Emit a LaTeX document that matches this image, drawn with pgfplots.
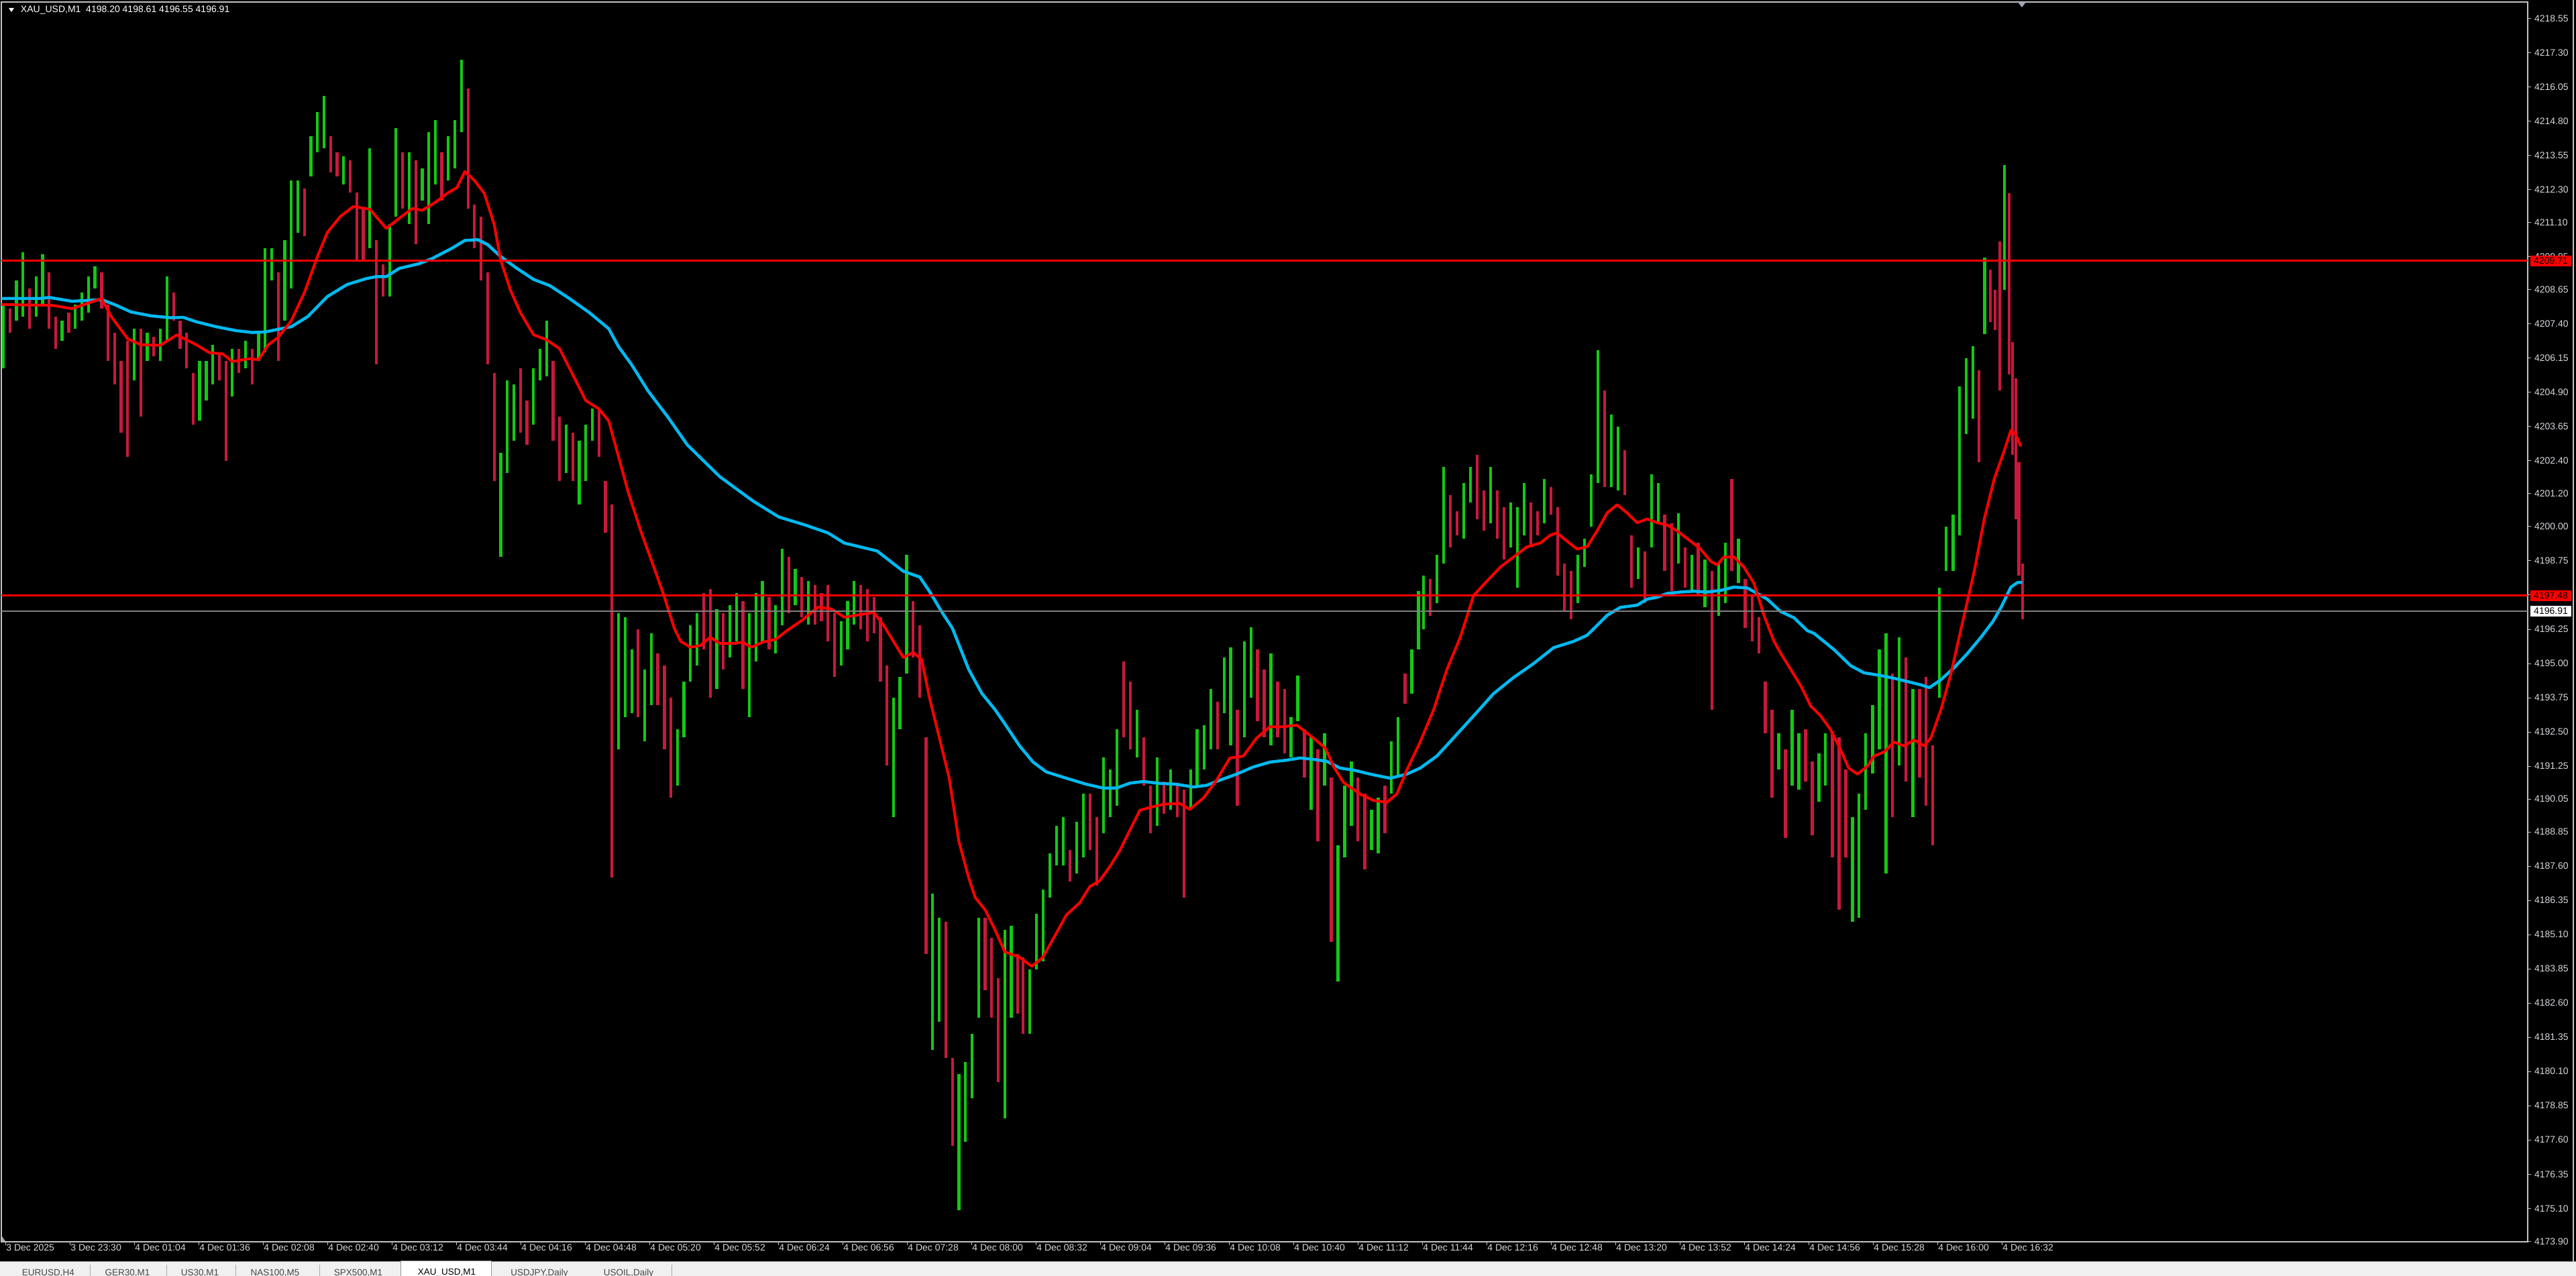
\documentclass[border=0pt]{standalone}
\usepackage{pgfplots}
\pgfplotsset{compat=1.18}
\usepackage{pgfplotstable}
\usepackage{fontspec}
\setmainfont{Liberation Sans}

\definecolor{upc}{RGB}{20,200,20}
\definecolor{dnc}{RGB}{200,25,60}
\definecolor{maslow}{RGB}{0,185,240}
\definecolor{framec}{RGB}{195,195,195}
\definecolor{labc}{RGB}{215,215,222}
\definecolor{tabbg}{RGB}{240,240,240}

% candles, grouped: x position, low, high
\pgfplotstableread{
x lo hi
2.0 4205.77 4208.11
10.0 4207.53 4208.99
13.9 4207.67 4210.01
21.9 4207.67 4209.14
25.9 4208.11 4209.94
37.8 4206.79 4207.53
45.8 4207.23 4208.11
49.8 4207.53 4208.55
53.8 4207.82 4209.14
57.8 4208.70 4209.50
81.7 4205.33 4207.23
89.6 4206.06 4207.09
97.6 4206.06 4207.23
101.6 4206.79 4209.14
121.5 4203.87 4206.06
125.5 4204.60 4206.06
129.5 4205.19 4206.65
141.4 4204.75 4206.50
149.4 4205.77 4206.79
157.4 4206.06 4207.09
161.4 4206.36 4210.16
165.3 4208.99 4210.16
173.3 4207.53 4210.45
177.3 4208.70 4212.65
181.3 4210.74 4212.65
189.2 4212.79 4214.26
193.2 4213.67 4215.13
197.2 4213.82 4215.72
209.2 4212.50 4213.52
225.1 4210.16 4213.82
237.1 4208.40 4211.04
241.0 4211.33 4214.55
249.0 4211.04 4213.67
257.0 4211.91 4213.09
261.0 4211.04 4214.40
264.9 4212.50 4214.84
272.9 4212.65 4214.26
276.9 4213.09 4214.84
280.9 4214.40 4217.04
304.8 4198.89 4202.70
308.8 4201.97 4205.33
312.7 4203.14 4205.19
324.7 4203.72 4205.77
328.7 4205.33 4206.50
332.7 4205.48 4207.53
344.6 4201.97 4203.72
352.6 4200.80 4203.14
356.6 4201.67 4203.72
360.6 4203.14 4204.31
376.5 4191.86 4196.85
380.5 4193.03 4196.70
384.5 4193.18 4195.52
392.4 4192.15 4194.79
396.4 4193.47 4196.10
412.4 4190.55 4192.59
416.3 4192.30 4194.35
420.3 4194.35 4196.40
424.3 4194.93 4196.85
436.3 4194.06 4196.99
444.2 4195.23 4197.14
448.2 4195.81 4197.58
456.2 4193.03 4196.85
460.2 4195.08 4197.58
464.1 4195.81 4198.02
472.1 4195.37 4197.14
476.1 4196.40 4199.19
484.1 4197.14 4198.46
492.0 4196.41 4198.02
512.0 4194.93 4196.55
515.9 4195.52 4197.28
519.9 4196.41 4198.02
543.8 4189.38 4193.76
547.8 4192.59 4194.50
551.8 4194.64 4198.96
567.7 4180.89 4186.60
571.7 4181.91 4185.72
583.7 4175.04 4180.01
587.6 4177.52 4180.45
591.6 4179.13 4181.48
595.6 4182.06 4185.72
611.6 4178.40 4185.28
615.5 4182.06 4185.42
626.8 4181.48 4183.82
630.8 4183.82 4185.86
634.9 4184.11 4186.74
639.0 4186.45 4188.06
643.1 4187.62 4189.08
647.2 4187.62 4189.38
655.3 4187.33 4189.23
659.4 4187.91 4190.25
671.6 4188.79 4191.57
675.7 4189.38 4191.13
679.8 4189.81 4192.59
692.0 4191.57 4193.32
704.3 4189.08 4191.57
712.4 4189.67 4191.13
724.7 4189.67 4191.13
728.7 4190.55 4192.59
732.8 4191.13 4192.74
736.9 4191.86 4194.06
745.1 4193.18 4195.23
749.1 4192.01 4195.59
757.3 4192.30 4195.81
761.4 4193.76 4196.32
773.6 4192.01 4195.37
785.8 4191.57 4193.03
789.9 4192.89 4194.57
798.1 4189.67 4192.30
806.2 4190.55 4192.45
814.4 4183.38 4188.35
818.5 4187.91 4190.55
822.6 4189.08 4191.42
834.8 4188.20 4189.67
838.9 4188.06 4190.11
847.0 4190.25 4192.15
851.1 4190.84 4193.03
859.3 4193.91 4195.52
863.4 4195.52 4197.64
866.5 4196.25 4198.22
874.6 4197.20 4198.96
878.7 4198.66 4202.19
891.0 4199.55 4201.60
895.0 4200.87 4202.19
907.3 4200.13 4202.19
919.5 4199.25 4200.87
923.6 4197.78 4200.72
927.7 4199.69 4201.60
939.9 4200.13 4201.75
960.3 4197.20 4198.96
964.4 4198.52 4199.55
968.5 4199.99 4201.90
972.5 4201.60 4206.45
980.7 4201.45 4204.10
984.8 4201.31 4203.66
997.0 4198.08 4199.25
1005.2 4199.25 4201.90
1009.3 4200.13 4201.60
1021.5 4198.66 4200.50
1029.7 4197.64 4198.96
1037.8 4197.05 4198.81
1046.0 4196.75 4198.66
1050.1 4197.20 4199.40
1058.2 4197.93 4199.55
1082.7 4191.13 4192.45
1090.8 4190.55 4193.32
1094.9 4190.40 4192.45
1107.2 4189.96 4191.72
1111.2 4190.55 4192.45
1127.6 4185.57 4189.38
1131.6 4185.72 4190.25
1135.7 4189.67 4192.45
1139.8 4190.98 4193.47
1143.9 4191.86 4195.52
1148.0 4187.33 4196.10
1156.1 4191.28 4195.96
1164.3 4189.38 4194.06
1180.6 4193.76 4197.78
1184.7 4198.37 4199.99
1188.8 4198.37 4200.43
1192.8 4199.69 4205.13
1196.9 4203.37 4206.16
1200.9 4203.95 4206.60
1208.0 4207.04 4209.83
1220.0 4208.65 4213.21
}\upbars

\pgfplotstableread{
x lo hi
6.0 4207.09 4207.96
17.9 4207.23 4208.70
29.9 4207.23 4209.28
33.9 4206.50 4207.67
41.8 4207.09 4207.82
61.8 4207.96 4209.28
65.7 4206.06 4208.11
69.7 4205.19 4207.09
73.7 4203.43 4206.06
77.7 4202.55 4206.79
85.7 4204.02 4207.23
93.6 4206.21 4206.94
105.6 4207.53 4208.55
109.6 4206.50 4207.53
113.5 4205.77 4207.09
117.5 4203.72 4205.62
133.5 4205.33 4206.36
137.5 4202.41 4206.06
145.4 4205.62 4206.50
153.4 4205.19 4206.50
169.3 4206.06 4209.28
185.3 4210.60 4212.35
201.2 4212.94 4214.26
205.2 4212.79 4213.67
213.1 4212.21 4213.38
217.1 4209.72 4212.21
221.1 4209.72 4211.62
229.1 4205.92 4210.45
233.1 4208.40 4209.57
245.0 4211.62 4213.67
253.0 4210.31 4213.38
268.9 4211.91 4213.67
284.9 4211.62 4216.01
288.8 4210.16 4211.77
292.8 4208.99 4211.33
296.8 4205.92 4209.28
300.8 4201.67 4205.62
316.7 4203.43 4205.77
320.7 4202.99 4204.60
336.7 4203.14 4206.06
340.6 4201.67 4204.02
348.6 4201.67 4203.43
364.5 4202.55 4204.31
368.5 4199.77 4201.67
372.5 4187.18 4200.80
388.4 4193.03 4196.25
400.4 4193.47 4195.37
404.4 4191.86 4194.93
408.4 4190.11 4193.76
428.3 4195.52 4197.58
432.3 4193.76 4197.72
440.2 4194.79 4196.85
452.2 4194.06 4197.28
468.1 4195.52 4197.43
480.1 4196.85 4198.89
488.0 4196.70 4198.16
496.0 4196.41 4197.87
500.0 4196.55 4197.58
504.0 4195.81 4197.87
508.0 4194.50 4196.85
523.9 4196.25 4197.87
527.9 4195.81 4197.72
531.9 4196.10 4197.43
535.9 4194.35 4196.69
539.8 4191.28 4194.93
555.8 4195.23 4197.28
559.8 4193.76 4196.40
563.7 4184.40 4192.30
575.7 4180.60 4185.57
579.7 4177.38 4180.60
599.6 4183.08 4185.72
603.6 4182.06 4184.99
607.6 4179.72 4183.52
619.5 4182.21 4184.40
622.7 4181.48 4184.26
651.2 4187.03 4188.20
663.5 4188.20 4190.25
667.6 4186.89 4189.38
683.9 4192.30 4195.08
687.9 4191.86 4194.35
696.1 4190.55 4192.30
700.2 4188.79 4190.55
708.3 4189.52 4190.69
716.5 4189.38 4190.55
720.6 4186.45 4190.40
741.0 4191.86 4193.61
753.2 4189.81 4193.32
765.4 4192.89 4195.52
769.5 4192.30 4194.79
777.7 4192.30 4194.35
781.8 4191.72 4194.06
794.0 4190.84 4192.59
802.2 4188.50 4191.86
810.3 4184.84 4190.84
826.6 4188.50 4190.84
830.7 4187.47 4190.25
843.0 4188.79 4190.55
855.2 4193.54 4194.64
870.6 4196.75 4198.08
882.8 4199.25 4201.16
886.9 4199.69 4200.57
899.1 4200.28 4202.63
903.2 4199.84 4201.31
911.4 4199.55 4201.31
915.4 4198.81 4200.72
931.8 4199.25 4200.87
935.8 4199.69 4200.57
944.0 4200.43 4201.45
948.1 4198.22 4200.72
952.1 4196.90 4198.66
956.2 4196.61 4198.37
976.6 4201.45 4204.98
988.9 4201.16 4202.78
992.9 4197.78 4199.69
1001.1 4197.20 4199.10
1013.3 4198.37 4200.43
1017.4 4197.64 4200.13
1025.6 4197.78 4199.25
1033.7 4197.49 4199.40
1041.9 4193.32 4198.37
1054.1 4198.37 4201.75
1062.3 4196.31 4198.08
1066.4 4195.81 4197.49
1070.5 4195.37 4196.69
1074.5 4192.45 4194.35
1078.6 4190.11 4193.32
1086.8 4188.64 4191.86
1099.0 4190.69 4192.59
1103.1 4188.72 4191.42
1115.3 4187.91 4192.52
1119.4 4186.01 4192.30
1123.5 4187.91 4191.13
1152.0 4189.38 4194.64
1160.2 4190.69 4195.23
1168.4 4190.84 4194.06
1172.4 4189.81 4194.50
1176.5 4188.35 4192.01
1204.5 4202.34 4205.72
1211.5 4207.48 4209.39
1214.5 4207.19 4208.65
1217.3 4204.98 4210.42
1222.8 4205.57 4212.18
1224.9 4202.63 4206.74
1226.9 4200.28 4205.42
1228.9 4198.22 4202.34
1231.0 4196.61 4198.66
}\dnbars

\begin{document}
\begin{tikzpicture}
\fill[black] (0,0) rectangle (768bp,380.4bp);

\begin{axis}[
    at={(0.4bp,10.2bp)}, anchor=south west,
    scale only axis, width=753.2bp, height=369.6bp,
    xmin=0.8, xmax=1538.6, ymin=4173.88, ymax=4219.16,
    axis background/.style={fill=black},
    axis line style={draw=framec, line width=0.3bp},
    xtick pos=lower, ytick pos=right, yticklabel pos=right,
    tick align=outside, major tick length=1bp,
    tick style={draw=framec, line width=0.2bp},
    ticklabel style={font=\fontsize{2.8bp}{3.2bp}\selectfont, text=labc, inner sep=0pt},
    xticklabel style={anchor=west, yshift=-0.8bp},
    yticklabel style={anchor=west, xshift=0.8bp},
    xtick={3.39,42.59,81.79,120.99,160.19,199.39,238.59,277.79,316.99,356.19,395.39,434.59,473.79,512.99,552.19,591.39,630.59,669.79,708.99,748.19,787.39,826.59,865.79,904.99,944.19,983.39,1022.59,1061.79,1100.99,1140.19,1179.39,1218.59},
    xticklabels={3 Dec 2025,3 Dec 23:30,4 Dec 01:04,4 Dec 01:36,4 Dec 02:08,4 Dec 02:40,4 Dec 03:12,4 Dec 03:44,4 Dec 04:16,4 Dec 04:48,4 Dec 05:20,4 Dec 05:52,4 Dec 06:24,4 Dec 06:56,4 Dec 07:28,4 Dec 08:00,4 Dec 08:32,4 Dec 09:04,4 Dec 09:36,4 Dec 10:08,4 Dec 10:40,4 Dec 11:12,4 Dec 11:44,4 Dec 12:16,4 Dec 12:48,4 Dec 13:20,4 Dec 13:52,4 Dec 14:24,4 Dec 14:56,4 Dec 15:28,4 Dec 16:00,4 Dec 16:32},
    ytick={4173.90,4175.10,4176.35,4177.60,4178.85,4180.10,4181.35,4182.60,4183.85,4185.10,4186.35,4187.60,4188.85,4190.05,4191.25,4192.50,4193.75,4195.00,4196.25,4197.50,4198.75,4200.00,4201.20,4202.40,4203.65,4204.90,4206.15,4207.40,4208.65,4209.85,4211.10,4212.30,4213.55,4214.80,4216.05,4217.30,4218.55},
    yticklabels={4173.90,4175.10,4176.35,4177.60,4178.85,4180.10,4181.35,4182.60,4183.85,4185.10,4186.35,4187.60,4188.85,4190.05,4191.25,4192.50,4193.75,4195.00,4196.25,4197.50,4198.75,4200.00,4201.20,4202.40,4203.65,4204.90,4206.15,4207.40,4208.65,4209.85,4211.10,4212.30,4213.55,4214.80,4216.05,4217.30,4218.55},
]

% bars
\addplot[draw=none, mark=none, forget plot,
    error bars/.cd, y dir=plus, y explicit, error mark=none,
    error bar style={draw=upc, line width=0.85bp}]
    table[x=x, y=lo, y error expr=\thisrow{hi}-\thisrow{lo}] {\upbars};
\addplot[draw=none, mark=none, forget plot,
    error bars/.cd, y dir=plus, y explicit, error mark=none,
    error bar style={draw=dnc, line width=0.85bp}]
    table[x=x, y=lo, y error expr=\thisrow{hi}-\thisrow{lo}] {\dnbars};

% slow MA
\addplot[maslow, line width=0.9bp, mark=none, line join=round] coordinates {
(0.8,4208.33) (23.9,4208.33) (29.9,4208.37) (43.8,4208.23) (61.8,4208.29) (69.7,4208.11) (79.7,4207.84) (91.6,4207.70) (103.6,4207.63) (111.6,4207.64) (119.5,4207.48) (131.5,4207.30) (143.4,4207.16) (153.4,4207.09) (161.4,4207.11) (171.3,4207.23) (177.3,4207.30) (187.3,4207.67) (199.2,4208.40) (211.2,4208.84) (223.1,4209.06) (229.1,4209.13) (235.1,4209.13) (243.0,4209.43) (255.0,4209.60) (263.0,4209.79) (274.9,4210.16) (282.9,4210.45) (290.8,4210.48) (296.8,4210.30) (304.8,4209.86) (314.7,4209.43) (324.7,4209.03) (334.7,4208.80) (346.6,4208.33) (358.6,4207.82) (370.5,4207.23) (376.5,4206.57) (384.5,4205.91) (394.4,4204.96) (406.4,4204.01) (418.3,4202.99) (428.3,4202.40) (438.2,4201.82) (458.2,4200.94) (474.1,4200.35) (490.0,4200.06) (504.0,4199.77) (513.9,4199.40) (533.9,4199.11) (541.8,4198.74) (549.8,4198.37) (559.8,4198.16) (565.7,4197.64) (573.7,4196.84) (579.7,4196.29) (589.6,4194.79) (597.6,4193.91) (605.6,4193.32) (612.5,4192.72) (620.6,4191.99) (628.8,4191.40) (636.9,4191.04) (649.1,4190.81) (661.3,4190.59) (671.4,4190.45) (679.5,4190.45) (687.7,4190.63) (695.8,4190.69) (706.0,4190.62) (716.1,4190.59) (726.3,4190.49) (734.4,4190.55) (742.5,4190.74) (752.7,4190.96) (762.8,4191.22) (773.0,4191.40) (783.2,4191.47) (791.3,4191.55) (799.4,4191.50) (807.5,4191.43) (815.7,4191.18) (823.8,4191.11) (834.0,4190.96) (846.1,4190.81) (856.3,4190.96) (864.4,4191.18) (874.6,4191.62) (884.7,4192.28) (897.0,4193.09) (909.1,4193.90) (921.3,4194.49) (933.5,4195.00) (945.7,4195.58) (957.9,4195.81) (966.0,4196.03) (972.1,4196.39) (978.2,4196.76) (986.3,4197.05) (996.5,4197.13) (1002.6,4197.35) (1008.7,4197.42) (1014.8,4197.56) (1022.9,4197.61) (1031.0,4197.64) (1039.1,4197.61) (1047.3,4197.67) (1055.4,4197.79) (1063.5,4197.76) (1069.6,4197.56) (1075.7,4197.35) (1083.8,4196.90) (1092.0,4196.67) (1100.1,4196.20) (1104.2,4196.10) (1116.3,4195.51) (1126.5,4194.92) (1134.6,4194.66) (1144.8,4194.56) (1152.9,4194.46) (1161.1,4194.34) (1169.2,4194.22) (1174.5,4194.12) (1181.4,4194.41) (1189.5,4194.85) (1197.6,4195.37) (1205.8,4195.96) (1213.1,4196.54) (1218.0,4197.05) (1224.0,4197.79) (1228.1,4197.96) (1231.0,4197.96)
};

% fast MA
\addplot[red, line width=0.8bp, mark=none, line join=round] coordinates {
(0.8,4208.11) (31.9,4208.08) (43.8,4207.96) (61.8,4208.33) (67.7,4207.67) (77.7,4206.86) (85.7,4206.64) (97.6,4206.62) (107.6,4207.00) (119.5,4206.64) (127.5,4206.35) (135.5,4206.31) (141.4,4206.03) (151.4,4206.13) (157.4,4206.10) (163.3,4206.64) (169.3,4206.91) (177.3,4207.52) (185.3,4208.55) (193.2,4209.86) (199.2,4210.74) (207.2,4211.33) (215.1,4211.69) (225.1,4211.59) (235.1,4210.89) (243.0,4211.26) (251.0,4211.62) (257.0,4211.55) (264.9,4211.84) (272.9,4212.20) (278.1,4212.38) (282.9,4212.97) (288.8,4212.64) (294.8,4212.17) (300.8,4211.03) (304.8,4209.72) (310.8,4208.62) (316.7,4207.82) (324.7,4207.01) (332.7,4206.82) (340.6,4206.50) (348.6,4205.55) (356.6,4204.60) (364.5,4204.30) (370.5,4203.86) (376.5,4202.55) (382.5,4201.23) (390.4,4199.77) (398.4,4198.45) (404.4,4197.43) (410.4,4196.29) (414.3,4195.81) (420.3,4195.59) (426.3,4195.66) (432.3,4195.96) (438.2,4195.73) (446.2,4195.73) (452.2,4195.78) (457.4,4195.59) (464.1,4195.78) (472.1,4195.88) (480.1,4196.25) (488.0,4196.57) (498.0,4197.06) (506.0,4196.99) (514.0,4196.69) (522.0,4196.77) (531.9,4196.87) (537.8,4196.40) (543.8,4195.81) (549.8,4195.22) (555.8,4195.40) (561.0,4195.15) (565.7,4193.76) (571.7,4192.30) (577.7,4190.83) (583.7,4188.49) (589.6,4187.18) (593.6,4186.45) (599.6,4186.01) (605.6,4185.28) (611.6,4184.47) (620.6,4184.27) (628.0,4183.94) (634.8,4184.27) (641.0,4184.94) (649.1,4185.82) (657.2,4186.26) (663.3,4186.85) (669.4,4187.07) (675.5,4187.58) (681.6,4188.17) (687.7,4188.91) (693.8,4189.64) (699.9,4189.74) (708.0,4189.86) (718.1,4189.89) (724.2,4189.67) (732.4,4190.08) (740.5,4190.74) (748.6,4191.55) (756.8,4191.62) (764.9,4192.28) (773.0,4192.69) (781.1,4192.69) (789.3,4192.75) (799.4,4192.28) (806.7,4191.91) (811.6,4191.25) (817.7,4190.66) (827.9,4190.23) (836.0,4190.00) (844.1,4189.93) (850.2,4190.23) (856.3,4191.11) (864.4,4192.13) (872.6,4193.31) (880.7,4194.78) (888.8,4195.95) (897.0,4197.49) (905.1,4198.01) (913.2,4198.52) (921.3,4198.89) (929.4,4199.26) (937.6,4199.40) (943.7,4199.69) (947.7,4199.77) (953.8,4199.47) (959.9,4199.18) (966.0,4199.26) (972.1,4199.84) (978.2,4200.50) (984.3,4200.80) (990.4,4200.50) (996.5,4200.14) (1002.6,4200.28) (1008.7,4200.14) (1014.8,4200.06) (1020.9,4199.84) (1029.0,4199.47) (1035.1,4199.18) (1041.2,4198.74) (1045.2,4198.60) (1049.3,4198.89) (1055.4,4198.89) (1061.5,4198.52) (1067.6,4197.93) (1073.7,4196.76) (1079.8,4195.81) (1083.9,4195.37) (1090.0,4194.78) (1096.1,4194.19) (1102.1,4193.45) (1108.2,4193.09) (1114.3,4192.58) (1120.4,4191.84) (1125.3,4191.18) (1130.6,4190.96) (1136.7,4191.25) (1140.7,4191.62) (1146.8,4191.77) (1152.9,4192.13) (1159.0,4191.99) (1165.1,4192.21) (1171.2,4191.99) (1175.3,4192.28) (1181.4,4193.31) (1187.5,4194.63) (1193.6,4196.25) (1201.7,4198.37) (1207.8,4200.28) (1213.9,4201.75) (1220.0,4202.78) (1224.0,4203.52) (1226.9,4203.37) (1230.1,4202.93)
};

% horizontal price lines
\addplot[red, line width=0.65bp, mark=none] coordinates {(0.8,4209.71) (1538.6,4209.71)};
\addplot[red, line width=0.65bp, mark=none] coordinates {(0.8,4197.48) (1538.6,4197.48)};
\addplot[gray, line width=0.25bp, mark=none] coordinates {(0.8,4196.91) (1538.6,4196.91)};

\coordinate (pA) at (axis cs:1538.6,4209.71);
\coordinate (pB) at (axis cs:1538.6,4197.48);
\coordinate (pC) at (axis cs:1538.6,4196.91);
\end{axis}

% price boxes on the scale
\node[fill=red, text=black, anchor=west, minimum width=12.2bp, minimum height=3.2bp, inner sep=0pt,
      font=\fontsize{2.8bp}{3.2bp}\selectfont] at ([xshift=0.6bp]pA) {4209.71};
\node[fill=red, text=black, anchor=west, minimum width=12.2bp, minimum height=3.2bp, inner sep=0pt,
      font=\fontsize{2.8bp}{3.2bp}\selectfont] at ([xshift=0.6bp]pB) {4197.48};
\node[fill=white, text=black, anchor=west, minimum width=12.2bp, minimum height=3.2bp, inner sep=0pt,
      font=\fontsize{2.8bp}{3.2bp}\selectfont] at ([xshift=0.6bp]pC) {4196.91};

% title
\fill[white] (2.6bp,378.0bp) -- (4.2bp,378.0bp) -- (3.4bp,376.8bp) -- cycle;
\node[anchor=west, inner sep=0pt, text=white, font=\fontsize{2.8bp}{3.2bp}\selectfont]
    at (6bp,377.4bp) {XAU\_USD,M1\ \ 4198.20 4198.61 4196.55 4196.91};

% chart shift marker and corner marker
\fill[color={rgb,255:red,160;green,165;blue,185}] (601.6bp,379.8bp) -- (604.0bp,379.8bp) -- (602.8bp,378.2bp) -- cycle;
\fill[color={rgb,255:red,160;green,165;blue,185}] (0.6bp,10.4bp) -- (0.6bp,11.8bp) -- (1.6bp,10.4bp) -- cycle;

% window edges and tab bar
\draw[color=framec, line width=0.3bp] (767.2bp,4.4bp) -- (767.2bp,380.4bp);
\fill[tabbg] (0,0) rectangle (768bp,4.2bp);
\draw[color={rgb,255:red,160;green,160;blue,160}, line width=0.25bp] (0,4.3bp) -- (768bp,4.3bp);
\foreach \sx in {135,249,352,477,1002} {
  \draw[color={rgb,255:red,170;green,170;blue,170}, line width=0.2bp] (0.2*\sx bp,0) -- (0.2*\sx bp,3.3bp);
}
\fill[white] (119.4bp,0) rectangle (146.4bp,4.5bp);
\draw[color={rgb,255:red,150;green,150;blue,150}, line width=0.2bp] (119.4bp,0) -- (119.4bp,4.5bp) -- (146.4bp,4.5bp) -- (146.4bp,0);
\begin{scope}[every node/.style={inner sep=0pt, font=\fontsize{2.7bp}{3bp}\selectfont, text={rgb,255:red,70;green,70;blue,70}}]
\node at (14.4bp,0.8bp) {EURUSD,H4};
\node at (38.0bp,0.8bp) {GER30,M1};
\node at (59.6bp,0.8bp) {US30,M1};
\node at (82.0bp,0.8bp) {NAS100,M5};
\node at (106.8bp,0.8bp) {SPX500,M1};
\node[text=black] at (133.2bp,0.9bp) {XAU\_USD,M1};
\node at (160.8bp,0.8bp) {USDJPY,Daily};
\node at (187.4bp,0.8bp) {USOIL,Daily};
\end{scope}

\pgfresetboundingbox
\useasboundingbox (0,0) rectangle (768bp,380.4bp);
\end{tikzpicture}
\end{document}
